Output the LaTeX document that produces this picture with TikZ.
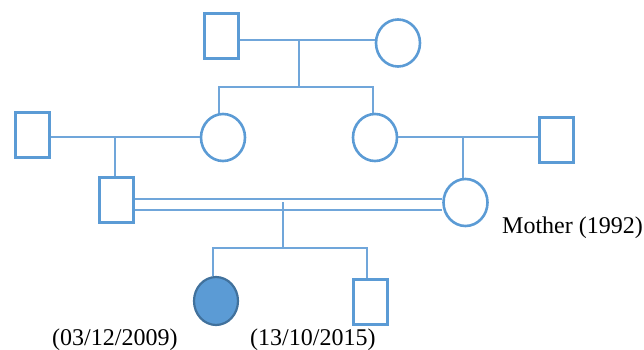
\documentclass[tikz,border=0pt]{standalone}
\usepackage{fontspec}
\setmainfont{Liberation Serif}
\usetikzlibrary{shapes.geometric,calc}
\definecolor{pedblue}{HTML}{5B9BD5}
\definecolor{pedline}{HTML}{70A6DA}
\definecolor{peddark}{HTML}{41719C}
\begin{document}
\begin{tikzpicture}[x=1pt,y=-1pt,
  male/.style={rectangle,draw=pedblue,line width=3pt,minimum width=34pt,minimum height=45pt,inner sep=0pt},
  female/.style={ellipse,draw=pedblue,line width=2.6pt,minimum width=44pt,minimum height=47pt,inner sep=0pt},
  affected/.style={ellipse,draw=peddark,fill=pedblue,line width=2.2pt,minimum width=44pt,minimum height=48pt,inner sep=0pt},
  link/.style={draw=pedline,line width=1.6pt},
  lbl/.style={font=\fontsize{24}{28}\selectfont,inner sep=0pt,anchor=base west}]
\useasboundingbox (0,0) rectangle (644,350);

% generation I
\node[male]   (gf) at (221,36.5) {};
\node[female] (gm) at (398,43) {};
% generation II
\node[male]   (pgf) at (32,135) {};
\node[female] (aunt) at (223,137.5) {};
\node[female] (gma) at (375,137.5) {};
\node[male]   (mgf) at (556,139.5) {};
% generation III
\node[male]   (father) at (116,199.5) {};
\node[female] (mother) at (465.5,202.5) {};
% generation IV
\node[affected] (child1) at (216,301) {};
\node[male]     (child2) at (370.5,302) {};

% helper coordinates for line levels
\coordinate (m1) at (299,40);
\coordinate (s1) at (299,87);
\coordinate (m2) at (0,137);
\coordinate (d1) at (0,199);
\coordinate (d2) at (0,210);
\coordinate (k0) at (283,202);
\coordinate (s3) at (283,248);

% generation I couple and sibship
\path[link] (gf.east |- m1) -- (gm.west |- m1);
\path[link] (m1) -- (s1);
\path[link] ($(aunt.north)+(-4,0)$) |- (s1) -| ($(gma.north)+(-2,0)$);

% generation II couples
\path[link] (pgf.east |- m2) -- (aunt.west |- m2);
\path[link] (115,137) -- (father.north -| 115,0);
\path[link] (gma.east |- m2) -- (mgf.west |- m2);
\path[link] (463,137) -- (mother.north -| 463,0);

% consanguineous couple (double line)
\path[link] (father.east |- d1) -- (mother.west |- d1);
\path[link] (father.east |- d2) -- (mother.west |- d2);

% offspring
\path[link] (k0) -- (s3);
\path[link] ($(child1.north)+(-3,0)$) |- (s3) -| ($(child2.north)+(-3.5,0)$);

% labels
\node[lbl] (lm) at (502,233) {Mother (1992)};
\node[lbl] (l1) at (52,345) {(03/12/2009)};
\node[lbl] (l2) at (250,345) {(13/10/2015)};
\end{tikzpicture}
\end{document}
